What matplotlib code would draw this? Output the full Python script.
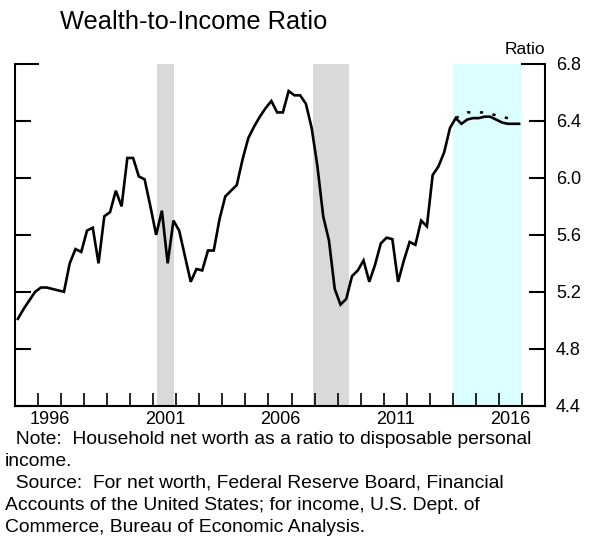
import numpy as np
import matplotlib
matplotlib.use("Agg")
from matplotlib import pyplot as plt
from matplotlib.ticker import FixedLocator, NullFormatter

plt.rcParams["font.family"] = ["Liberation Sans", "DejaVu Sans"]

# ------ data (quarterly, 1995Q1 - 2016Q4)

start_year = 1995
ratio = [5.01, 5.08, 5.14, 5.20, 5.23, 5.23, 5.22, 5.21,
         5.20, 5.40, 5.50, 5.48, 5.63, 5.65, 5.40, 5.73,
         5.76, 5.91, 5.80, 6.14, 6.14, 6.01, 5.99, 5.80,
         5.60, 5.77, 5.40, 5.70, 5.63, 5.45, 5.27, 5.36,
         5.35, 5.49, 5.49, 5.71, 5.87, 5.91, 5.95, 6.13,
         6.28, 6.36, 6.43, 6.49, 6.54, 6.46, 6.46, 6.61,
         6.58, 6.58, 6.52, 6.35, 6.08, 5.73, 5.56, 5.22,
         5.11, 5.15, 5.31, 5.35, 5.42, 5.27, 5.39, 5.54,
         5.58, 5.57, 5.27, 5.42, 5.55, 5.53, 5.70, 5.66,
         6.02, 6.08, 6.18, 6.35, 6.42, 6.38, 6.41, 6.42,
         6.42, 6.43, 6.43, 6.41, 6.39, 6.38, 6.38, 6.38]

# earlier vintage, 2014Q1 - 2016Q3
prev_start = 2014
prev_ratio = [6.42, 6.44, 6.46, 6.46, 6.46, 6.46, 6.45, 6.44, 6.43, 6.42, 6.41]

recessions = [(2001.17, 2001.92), (2007.92, 2009.5)]
highlight = (2014.0, 2017.0)

year_labels = [1996, 2001, 2006, 2011, 2016]
y_ticks = [4.4, 4.8, 5.2, 5.6, 6.0, 6.4]
y_top = 6.8

# ------

t = start_year + 0.125 + 0.25 * np.arange(len(ratio))
t_prev = prev_start + 0.125 + 0.25 * np.arange(len(prev_ratio))

fig = plt.figure(figsize=(5.94, 5.4), dpi=100)
ax = fig.add_axes([15 / 594, 1 - 405.7 / 540, 530 / 594, 341.7 / 540])

for a, b in recessions:
    ax.axvspan(a, b, color="#d9d9d9", lw=0, zorder=0)
ax.axvspan(*highlight, color="#dcffff", lw=0, zorder=0)

ax.plot(t, ratio, c="k", lw=1.9, solid_joinstyle="miter", zorder=3)
ax.plot(t_prev, prev_ratio, c="k", lw=1.8, dashes=(1.3, 3.8), zorder=3)

ax.set_xlim(1995, 2018)
ax.set_ylim(4.4, 6.8)

for s in ["left", "right", "bottom"]:
    ax.spines[s].set_linewidth(1.5)
ax.spines["top"].set_visible(False)

# x: yearly ticks, labels centered in the year
ax.xaxis.set_major_locator(FixedLocator(np.arange(1996, 2018)))
ax.xaxis.set_major_formatter(NullFormatter())
ax.xaxis.set_minor_locator(FixedLocator([y + 0.5 for y in year_labels]))
ax.set_xticklabels([str(y) for y in year_labels], minor=True)
ax.tick_params(axis="x", which="major", direction="in", length=9.4, width=1.2)
ax.tick_params(axis="x", which="minor", length=0, pad=4, labelsize=13)

# y: ticks on both sides, labels on the right, top tick longer
ax.yaxis.set_major_locator(FixedLocator(y_ticks))
ax.yaxis.set_minor_locator(FixedLocator([y_top]))
ax.set_yticklabels(["%.1f" % v for v in y_ticks])
ax.set_yticklabels(["%.1f" % y_top], minor=True)
ax.tick_params(axis="y", which="both", direction="in", left=True, right=True,
               labelleft=False, labelright=True, width=1.5, pad=8, labelsize=13)
ax.tick_params(axis="y", which="major", length=11.5)
ax.tick_params(axis="y", which="minor", length=17)

ax.text(1.0, 1.02, "Ratio", transform=ax.transAxes, ha="right", va="bottom", fontsize=12.5)

fig.text(60 / 594, 1 - 29 / 540, "Wealth-to-Income Ratio", fontsize=18.3, va="baseline")

notes = ("  Note:  Household net worth as a ratio to disposable personal\n"
         "income.\n"
         "  Source:  For net worth, Federal Reserve Board, Financial\n"
         "Accounts of the United States; for income, U.S. Dept. of\n"
         "Commerce, Bureau of Economic Analysis.")
fig.text(5 / 594, 1 - 431 / 540, notes, fontsize=13.9, va="top", linespacing=1.38)

fig.savefig("out.png", dpi=100)
